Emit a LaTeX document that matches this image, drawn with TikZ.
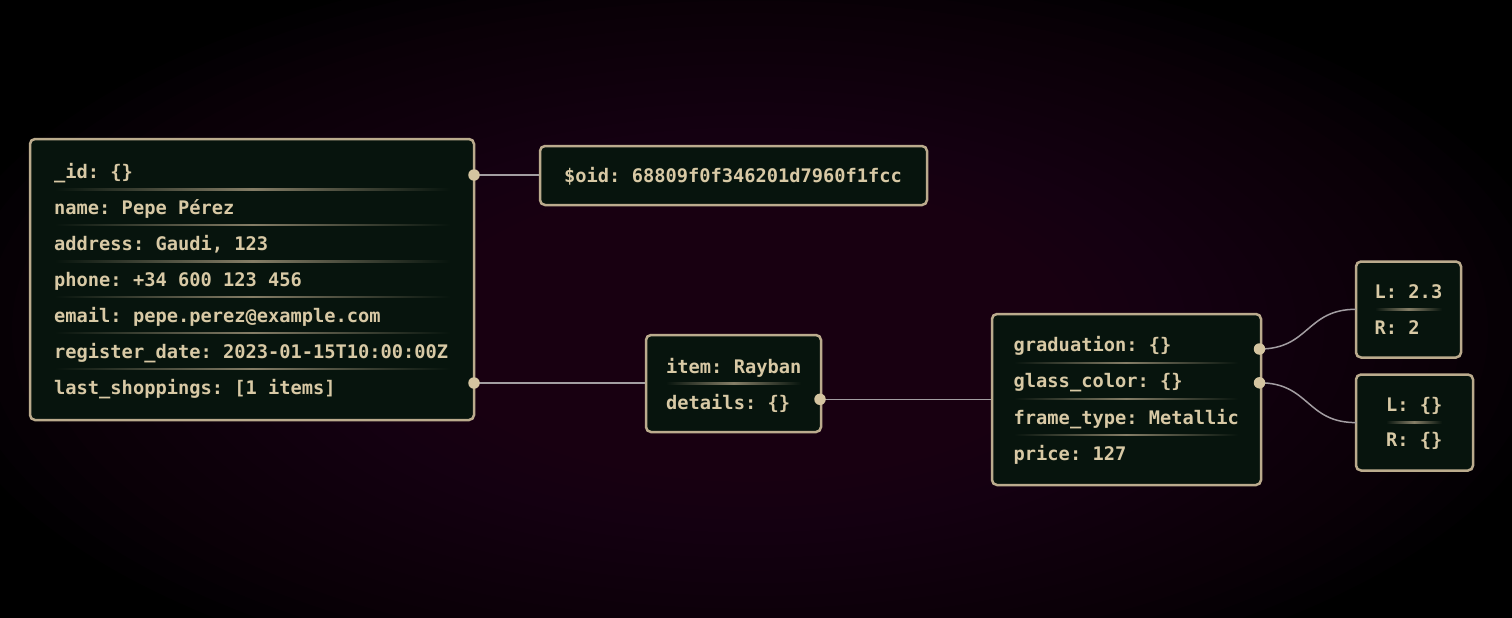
\documentclass[tikz,border=0pt]{standalone}
\usepackage{fontspec}
\setmainfont{DejaVu Sans Mono}
\definecolor{bgc}{HTML}{26071F}
\definecolor{boxfill}{HTML}{07140D}
\definecolor{boxline}{HTML}{BBAB8D}
\definecolor{txt}{HTML}{D8C9A5}
\definecolor{dotc}{HTML}{D4C4A0}
\definecolor{connc}{HTML}{A39EA2}
\tikzset{
  box/.style={draw=boxline, fill=boxfill, line width=2.5pt, rounded corners=5pt, inner sep=0pt},
  row/.style={anchor=base west, inner sep=0pt, text=txt, font=\fontsize{18.7}{22}\selectfont\bfseries\frenchspacing},
  dotnode/.style={circle, fill=dotc, minimum size=11.5pt, inner sep=0pt},
  conn/.style={draw=connc, line width=1.5pt},
}
\newcommand{\sepline}[3]{\shade[left color=boxfill, right color=boxfill, middle color=boxline!70!boxfill] (#1,#3-0.65) rectangle (#2,#3+0.65);}
\begin{document}
\frenchspacing
\begin{tikzpicture}[x=1pt,y=-1pt]
\useasboundingbox (0,0) rectangle (1512,618);
\fill[black] (0,0) rectangle (1512,618);
\foreach \i in {0,...,29}{
  \fill[bgc, fill opacity=0.07] (750,330) ellipse ({820*(1-\i/30)} and {380*(1-\i/30)});
}

% boxes
\node[box, minimum width=444pt, minimum height=281pt] (user) at (252,279.5) {};
\node[box, minimum width=387pt, minimum height=59pt] (oid) at (733.5,175.5) {};
\node[box, minimum width=175pt, minimum height=97pt] (shop) at (733.5,383.5) {};
\node[box, minimum width=269pt, minimum height=171pt] (details) at (1126.5,399.5) {};
\node[box, minimum width=105pt, minimum height=96pt] (grad) at (1408.5,309.5) {};
\node[box, minimum width=117pt, minimum height=96pt] (glass) at (1414.5,422.5) {};

% separators
\sepline{55}{450}{189.5}
\sepline{55}{450}{225.3}
\sepline{55}{450}{261.5}
\sepline{55}{450}{297.3}
\sepline{55}{450}{333.3}
\sepline{55}{450}{369.3}
\sepline{666}{801}{383.5}
\sepline{1014}{1238}{363.3}
\sepline{1014}{1238}{399.3}
\sepline{1014}{1238}{435.2}
\sepline{1375}{1442}{309.5}
\sepline{1386}{1442}{422.5}

% rows
\node[row] (r1) at (54,178) {\_id: \{\}};
\node[row] (r2) at (54,214) {name: Pepe Pérez};
\node[row] (r3) at (54,250) {address: Gaudi, 123};
\node[row] (r4) at (54,286) {phone: +34 600 123 456};
\node[row] (r5) at (54,322) {email: pepe.perez@example.com};
\node[row] (r6) at (54,358) {register\_date: 2023-01-15T10:00:00Z};
\node[row] (r7) at (54,394) {last\_shoppings: [1 items]};
\node[row] (o1) at (564,182) {\$oid: 68809f0f346201d7960f1fcc};
\node[row] (s1) at (666,373.5) {item: Rayban};
\node[row] (s2) at (666,409) {details: \{\}};
\node[row] (d1) at (1013.5,351.5) {graduation: \{\}};
\node[row] (d2) at (1013.5,387.8) {glass\_color: \{\}};
\node[row] (d3) at (1013.5,424) {frame\_type: Metallic};
\node[row] (d4) at (1013.5,460.3) {price: 127};
\node[row] (g1) at (1374.5,298.3) {L: 2.3};
\node[row] (g2) at (1374.5,334) {R: 2};
\node[row] (c1) at (1386,411.7) {L: \{\}};
\node[row] (c2) at (1386,446.7) {R: \{\}};

% ports
\coordinate (pid) at (474,175);
\coordinate (pshop) at (474,383);
\coordinate (pdet) at (820,399.3);
\coordinate (pgrad) at (1259.5,349);
\coordinate (pglass) at (1259.5,382.8);
\coordinate (ingrad) at (1356,309.3);
\coordinate (inglass) at (1356,422.6);

% connectors
\draw[conn] (pid) -- (pid -| oid.west);
\draw[conn] (pshop) -- (pshop -| shop.west);
\draw[conn] (pdet) -- (pdet -| details.west);
\draw[conn] (pgrad) .. controls +(50,0) and +(-50,0) .. (ingrad);
\draw[conn] (pglass) .. controls +(50,0) and +(-50,0) .. (inglass);

% dots
\node[dotnode] (dp1) at (pid) {};
\node[dotnode] (dp2) at (pshop) {};
\node[dotnode] (dp3) at (pdet) {};
\node[dotnode] (dp4) at (pgrad) {};
\node[dotnode] (dp5) at (pglass) {};
\end{tikzpicture}
\end{document}
